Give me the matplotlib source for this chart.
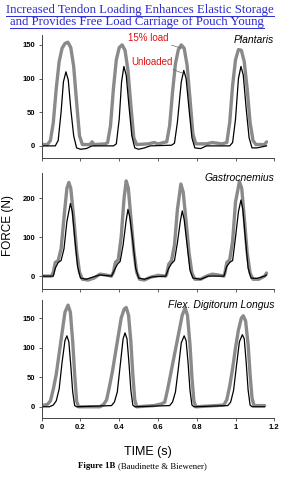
import matplotlib
matplotlib.use("Agg")
import matplotlib.pyplot as plt
from matplotlib.lines import Line2D

# ---- data (time in s, force in N) ----
# Plantaris
pl_load_t = [0.00, 0.03, 0.045, 0.06, 0.075, 0.09, 0.105, 0.12, 0.135, 0.15, 0.165, 0.18, 0.195, 0.21,
             0.25, 0.26, 0.27, 0.33,
             0.34, 0.355, 0.37, 0.385, 0.40, 0.415, 0.43, 0.445, 0.46, 0.475, 0.49, 0.55, 0.58, 0.60,
             0.645, 0.66, 0.675, 0.69, 0.705, 0.72, 0.735, 0.75, 0.765, 0.78, 0.795, 0.85, 0.88, 0.93,
             0.955, 0.97, 0.985, 1.00, 1.015, 1.03, 1.045, 1.06, 1.075, 1.09, 1.105, 1.15, 1.16]
pl_load_f = [2, 2, 8, 35, 85, 125, 145, 152, 154, 146, 118, 65, 15, 2,
             2, 6, 2, 3,
             5, 30, 85, 128, 146, 150, 142, 112, 60, 12, 2, 3, 5, 3,
             6, 30, 80, 122, 143, 150, 145, 120, 70, 18, 3, 3, 5, 3,
             5, 35, 90, 128, 143, 142, 125, 85, 35, 8, 2, 2, 6]
pl_unl_t = [0.00, 0.07, 0.085, 0.10, 0.112, 0.125, 0.137, 0.15, 0.165, 0.18, 0.20, 0.23, 0.26, 0.37,
            0.385, 0.40, 0.412, 0.424, 0.436, 0.45, 0.465, 0.48, 0.50, 0.53, 0.56, 0.67,
            0.685, 0.70, 0.72, 0.733, 0.745, 0.76, 0.775, 0.79, 0.82, 0.85, 0.97,
            0.985, 1.00, 1.015, 1.028, 1.04, 1.055, 1.07, 1.085, 1.11, 1.16]
pl_unl_f = [0, 0, 8, 50, 95, 110, 98, 55, 15, -3, -5, -4, 0, 0,
            3, 40, 95, 118, 105, 60, 15, -3, -5, -3, 0, 1,
            4, 35, 95, 112, 100, 55, 12, -3, -4, 0, 0,
            5, 40, 100, 118, 105, 55, 12, -3, -3, 0]

# Gastrocnemius
ga_load_t = [0.00, 0.05, 0.06, 0.07, 0.085, 0.10, 0.115, 0.13, 0.14, 0.15, 0.165, 0.18, 0.195, 0.21, 0.24,
             0.27, 0.30, 0.33, 0.36,
             0.37, 0.38, 0.395, 0.41, 0.425, 0.436, 0.447, 0.46, 0.475, 0.49, 0.505, 0.53, 0.56, 0.60, 0.64,
             0.645, 0.655, 0.67, 0.685, 0.70, 0.718, 0.73, 0.745, 0.76, 0.775, 0.79, 0.82, 0.85, 0.88, 0.91, 0.94,
             0.945, 0.955, 0.97, 0.985, 1.00, 1.02, 1.032, 1.045, 1.06, 1.075, 1.09, 1.12, 1.15, 1.16]
ga_load_f = [0, 0, 10, 35, 40, 70, 150, 225, 240, 225, 150, 65, 10, -8, -10,
             -5, 5, 3, 0,
             10, 35, 42, 100, 200, 244, 225, 150, 65, 10, -8, -10, -3, 2, 0,
             5, 30, 40, 80, 170, 236, 215, 140, 60, 8, -8, -8, 0, 5, 3, 0,
             8, 35, 42, 90, 190, 242, 225, 150, 60, 8, -8, -8, 0, 8]
ga_unl_t = [0.00, 0.06, 0.07, 0.085, 0.10, 0.115, 0.13, 0.148, 0.158, 0.17, 0.185, 0.20, 0.23, 0.26, 0.30, 0.36,
            0.375, 0.39, 0.405, 0.42, 0.435, 0.445, 0.455, 0.47, 0.485, 0.50, 0.53, 0.57, 0.64,
            0.655, 0.67, 0.685, 0.70, 0.715, 0.725, 0.735, 0.75, 0.765, 0.78, 0.82, 0.86, 0.94,
            0.955, 0.97, 0.985, 1.00, 1.015, 1.028, 1.038, 1.05, 1.065, 1.08, 1.11, 1.15, 1.16]
ga_unl_f = [0, 0, 20, 35, 40, 70, 140, 186, 165, 100, 25, -5, -8, -3, 3, 0,
            15, 30, 38, 80, 140, 171, 150, 90, 20, -5, -8, -2, 0,
            20, 32, 40, 85, 140, 167, 145, 80, 15, -5, -8, 0, 0,
            25, 35, 40, 100, 165, 195, 170, 100, 20, -5, -6, 0, 3]

# Flex. Digitorum Longus
fdl_load_t = [0.00, 0.03, 0.045, 0.06, 0.075, 0.09, 0.105, 0.12, 0.136, 0.148, 0.16, 0.17, 0.18, 0.19, 0.30,
              0.32, 0.335, 0.35, 0.365, 0.38, 0.395, 0.41, 0.425, 0.436, 0.448, 0.46, 0.47, 0.48, 0.49, 0.58, 0.62,
              0.635, 0.65, 0.665, 0.68, 0.695, 0.71, 0.725, 0.74, 0.752, 0.765, 0.775, 0.785, 0.795, 0.90,
              0.94, 0.955, 0.97, 0.985, 1.00, 1.015, 1.03, 1.04, 1.052, 1.065, 1.075, 1.085, 1.095, 1.15]
fdl_load_f = [2, 4, 10, 30, 55, 90, 125, 160, 172, 160, 110, 55, 10, 0, 0,
              4, 12, 35, 60, 90, 120, 150, 165, 168, 155, 110, 55, 12, 0, 2, 5,
              8, 30, 55, 80, 105, 130, 155, 167, 155, 105, 50, 10, 0, 2,
              3, 12, 35, 65, 100, 130, 150, 154, 145, 105, 55, 15, 2, 2]
fdl_unl_t = [0.00, 0.04, 0.06, 0.075, 0.09, 0.105, 0.12, 0.13, 0.14, 0.15, 0.16, 0.17, 0.18, 0.36,
             0.375, 0.39, 0.405, 0.42, 0.43, 0.44, 0.45, 0.46, 0.47, 0.48, 0.66,
             0.675, 0.69, 0.705, 0.72, 0.735, 0.745, 0.755, 0.765, 0.775, 0.785, 0.96,
             0.975, 0.99, 1.005, 1.02, 1.035, 1.045, 1.055, 1.065, 1.075, 1.085, 1.15]
fdl_unl_f = [0, 0, 3, 10, 30, 75, 112, 120, 110, 70, 25, 2, 0, 2,
             8, 25, 70, 115, 125, 115, 75, 28, 3, 0, 2,
             8, 25, 65, 108, 120, 112, 75, 28, 3, 0, 2,
             8, 28, 70, 110, 122, 115, 75, 28, 3, 0, 0]

panels = [
    ("Plantaris", pl_load_t, pl_load_f, pl_unl_t, pl_unl_f, (-18, 165), [0, 50, 100, 150]),
    ("Gastrocnemius", ga_load_t, ga_load_f, ga_unl_t, ga_unl_f, (-33, 265), [0, 100, 200]),
    ("Flex. Digitorum Longus", fdl_load_t, fdl_load_f, fdl_unl_t, fdl_unl_f, (-19, 180), [0, 50, 100, 150]),
]
x_ticks = [0, 0.2, 0.4, 0.6, 0.8, 1.0, 1.2]
x_labels = ["0", "0.2", "0.4", "0.6", "0.8", "1", "1.2"]

W, H = 283, 488
fig = plt.figure(figsize=(W / 100, H / 100), dpi=100)

# axes boxes in pixels: (top, bottom)
boxes = [(34.8, 158), (172.7, 289), (300.4, 418)]
left_px, right_px = 41.7, 274.3

for (name, lt, lf, ut, uf, ylim, yt), (top, bot) in zip(panels, boxes):
    ax = fig.add_axes([left_px / W, (H - bot) / H, (right_px - left_px) / W, (bot - top) / H])
    ax.plot(lt, lf, color="#8a8a8a", lw=2.4, solid_capstyle="round", solid_joinstyle="round")
    ax.plot(ut, uf, color="black", lw=0.9)
    ax.set_xlim(0, 1.2)
    ax.set_ylim(*ylim)
    ax.set_yticks(yt)
    ax.set_xticks(x_ticks)
    for s in ["top", "right"]:
        ax.spines[s].set_visible(False)
    for s in ["left", "bottom"]:
        ax.spines[s].set_color("#444444")
        ax.spines[s].set_linewidth(0.7)
    ax.tick_params(direction="out", length=2.5, width=0.6, color="#444444", pad=2)
    for lab in ax.get_yticklabels():
        lab.set_fontfamily("Liberation Sans")
        lab.set_fontweight("bold")
        lab.set_fontsize(5.5)
    if name == "Flex. Digitorum Longus":
        ax.set_xticklabels(x_labels, fontfamily="Liberation Sans", fontweight="bold", fontsize=5.5)
    else:
        ax.set_xticklabels([])
    ax.text(1.0, 1.0, name, transform=ax.transAxes, ha="right", va="top",
            fontfamily="Liberation Sans", style="italic", fontsize=7.5)
    if name == "Plantaris":
        ax.annotate("15% load", xy=(0.722, 145), xytext=(0.655, 160), ha="right", va="center",
                    color="#dd1111", fontfamily="Liberation Sans", fontsize=7,
                    arrowprops=dict(arrowstyle="-", color="#666666", lw=0.5, shrinkA=0, shrinkB=0))
        ax.annotate("Unloaded", xy=(0.727, 108), xytext=(0.678, 125), ha="right", va="center",
                    color="#dd1111", fontfamily="Liberation Sans", fontsize=7,
                    arrowprops=dict(arrowstyle="-", color="#666666", lw=0.5, shrinkA=0, shrinkB=0))

fig.text(8 / W, 1 - 225 / H, "FORCE (N)", rotation=90, ha="center", va="center",
         fontfamily="Liberation Sans", fontsize=8.5)
fig.text(148 / W, 1 - 452 / H, "TIME (s)", ha="center", va="center",
         fontfamily="Liberation Sans", fontsize=9)

fig.text(115 / W, 1 - 466 / H, "Figure 1B", ha="right", va="center",
         fontfamily="Liberation Serif", fontweight="bold", fontsize=6.3)
fig.text(118 / W, 1 - 466 / H, "(Baudinette & Biewener)", ha="left", va="center",
         fontfamily="Liberation Serif", fontsize=6.3)

# title, blue and underlined
blue = "#2b2bd0"
t1 = fig.text(140 / W, 1 - 10 / H, "Increased Tendon Loading Enhances Elastic Storage",
              ha="center", va="center", color=blue, fontfamily="Liberation Serif", fontsize=9.2)
t2 = fig.text(137 / W, 1 - 22 / H, "and Provides Free Load Carriage of Pouch Young",
              ha="center", va="center", color=blue, fontfamily="Liberation Serif", fontsize=9.2)
fig.canvas.draw()
r = fig.canvas.get_renderer()
for t, y_px in [(t1, 15.5), (t2, 27.5)]:
    bb = t.get_window_extent(r)
    y = 1 - y_px / H
    fig.add_artist(Line2D([bb.x0 / W, bb.x1 / W], [y, y], color=blue, lw=0.7,
                          transform=fig.transFigure))

fig.savefig("out.png", dpi=100)
